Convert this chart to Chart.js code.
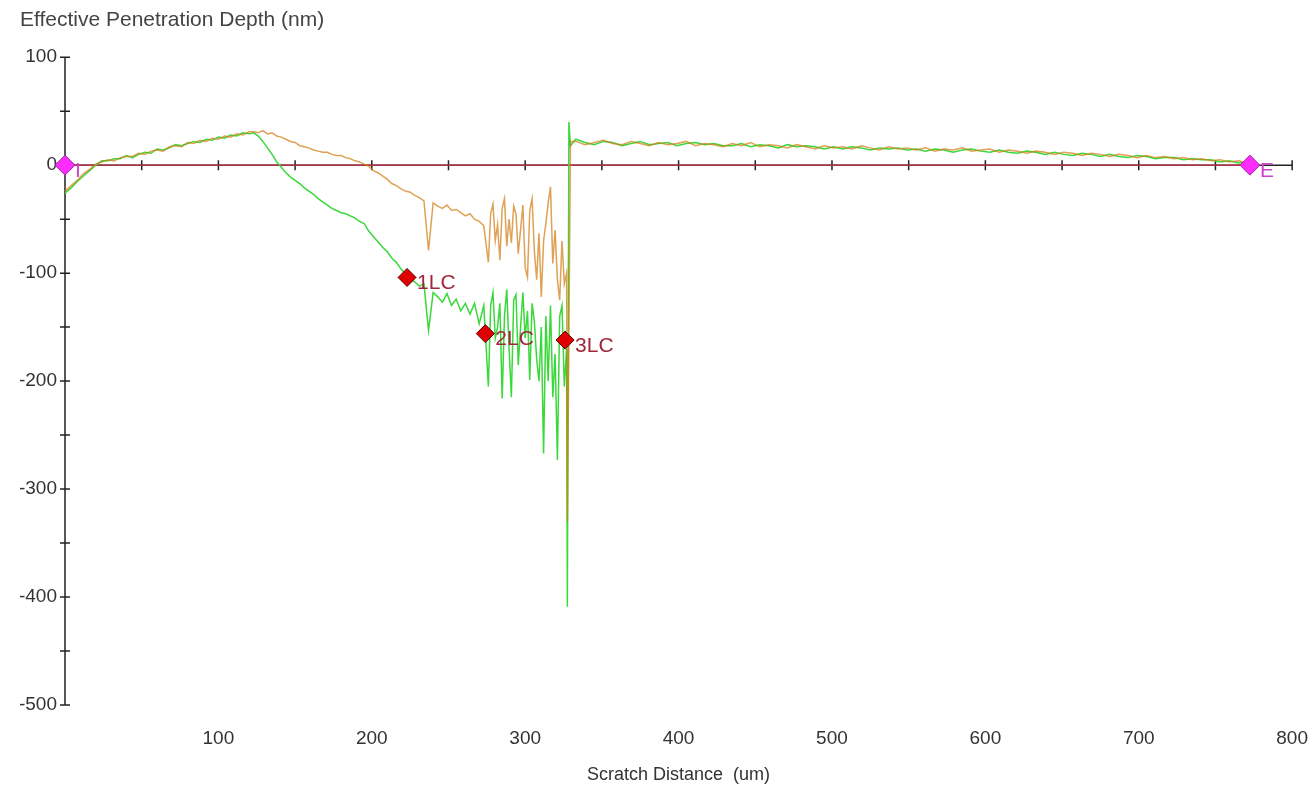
<!DOCTYPE html>
<html>
<head>
<meta charset="utf-8">
<title>Effective Penetration Depth</title>
<script src="https://cdn.jsdelivr.net/npm/chart.js@4.4.1/dist/chart.umd.min.js"></script>
<style>
  html, body { margin: 0; padding: 0; background: #fff; }
  #wrap { width: 1312px; height: 787px; }
</style>
</head>
<body>
<div id="wrap"><canvas id="depthChart" width="1312" height="787"></canvas></div>
<script>
// scratch distance (um), shared by both depth traces
const distance = [
  0, 4, 8, 12, 16, 20, 24, 28, 32, 36, 40, 44, 48, 52, 56, 60, 64, 68, 72, 76,
  80, 84, 88, 92, 96, 100, 104, 108, 112, 116, 120,
  123, 126, 129, 132, 135, 138, 141, 144, 147, 150,
  153, 156, 159, 162, 165, 168, 171, 174, 177, 180,
  183, 186, 189, 192, 195, 198, 201, 204, 207, 210,
  213, 216, 219, 222, 225, 228, 231, 234, 237, 240,
  243, 246, 249, 252, 255, 258, 261, 264, 267, 270,
  273,
  276, 277.5, 279, 280.5, 282, 283.5, 285, 286.5, 288, 289.5,
  291, 292.5, 294, 295.5, 297, 298.5, 300, 301.5, 303, 304.5,
  306, 307.5, 309, 310.5, 312, 313.5, 315, 316.5, 318, 319.5,
  321, 322.5, 324, 325.5, 327,
  327.5, 328.5, 329.5,
  333, 339, 345, 351, 357, 363, 369, 375, 381, 387,
  393, 399, 405, 411, 417, 423, 429, 435, 441, 447,
  453, 459, 465, 471, 477, 483, 489, 495, 501, 507,
  513, 519, 525, 531, 537, 543, 549, 555, 561, 567,
  573, 579, 585, 591, 597, 603, 609, 615, 621, 627,
  633, 639, 645, 651, 657, 663, 669, 675, 681, 687,
  693, 699, 705, 711, 717, 723, 729, 735, 741, 747,
  753, 759, 765, 771, 773
];

// orange trace, depth (nm)
const orangeDepth = [
  -24, -19, -14, -8, -4, 1, 3, 5, 4, 7, 8, 8, 11, 10, 13, 14, 13, 17, 18, 17,
  21, 20, 23, 22, 25, 24, 27, 26, 29, 28, 31,
  31, 30, 32, 29, 30, 27, 26, 24, 22, 21,
  18, 17, 16, 14, 13, 12, 12, 10, 9, 9,
  7, 6, 4, 3, 1, -1, -5, -7, -10, -13,
  -17, -19, -22, -24, -25, -28, -30, -33, -79, -35,
  -38, -40, -37, -42, -41, -44, -47, -45, -50, -52,
  -56,
  -90, -45, -36, -70, -55, -88, -40, -31, -75, -50,
  -72, -38, -45, -82, -60, -37, -95, -104, -42, -31,
  -80, -106, -63, -122, -70, -54, -35, -20, -91, -60,
  -106, -125, -70, -110, -100,
  -330, -160, 22,
  22, 19, 21, 23, 20, 19, 22, 20, 18, 21,
  19, 20, 22, 18, 20, 19, 17, 20, 18, 21,
  17, 19, 18, 16, 19, 17, 15, 18, 16, 17,
  15, 18, 16, 14, 17, 15, 16, 14, 16, 13,
  15, 14, 16, 13, 14, 15, 12, 14, 13, 11,
  13, 12, 10, 12, 11, 9, 11, 10, 8, 10,
  9, 7, 9, 7, 8, 6, 7, 5, 6, 4,
  5, 3, 4, 2, 1
];

// green trace, depth (nm)
const greenDepth = [
  -26, -21, -15, -10, -5, 0, 4, 4, 6, 6, 9, 7, 10, 12, 11, 15, 14, 16, 19, 18,
  20, 22, 21, 24, 23, 26, 25, 28, 27, 30, 29,
  30, 27, 22, 16, 10, 3, -2, -7, -11, -14,
  -17, -21, -24, -27, -31, -34, -37, -40, -42, -44,
  -45, -47, -49, -52, -54, -61, -66, -71, -76, -80,
  -86, -90, -96, -101, -106, -108, -112, -110, -153, -118,
  -122, -127, -119, -130, -124, -135, -128, -138, -128, -147,
  -130,
  -205, -130, -118, -160, -150, -128, -216, -140, -115, -170,
  -215, -125, -120, -185, -150, -118, -160, -135, -199, -128,
  -145, -180, -200, -150, -267, -140, -200, -130, -215, -175,
  -273, -140, -130, -205, -170,
  -409, 40, 18,
  24, 21, 19, 22, 21, 18, 20, 22, 19, 20,
  21, 18, 20, 21, 19, 20, 18, 18, 20, 17,
  19, 18, 16, 19, 17, 18, 17, 15, 17, 15,
  17, 16, 14, 16, 15, 16, 14, 15, 13, 15,
  14, 12, 14, 15, 13, 12, 14, 12, 11, 13,
  12, 10, 12, 10, 9, 11, 10, 8, 10, 8,
  7, 9, 8, 6, 7, 7, 5, 6, 5, 5,
  3, 4, 2, 3, 1
];

// zero reference line
const baseDist = [0, 773];
const baseDepth = [0, 0];

// start / end of scratch
const endDist = [0, 772.5];
const endDepth = [0, 0];
const endText = ['I', 'E'];

// critical load events
const lcDist = [223, 274, 326];
const lcDepth = [-104, -156, -162];
const lcText = ['1LC', '2LC', '3LC'];

// axis tick marks
const depthMarks = [100, 50, 0, -50, -100, -150, -200, -250, -300, -350, -400, -450, -500];
const distMarks = [50, 100, 150, 200, 250, 300, 350, 400, 450, 500, 550, 600, 650, 700, 750, 800];

const FONT = "'Liberation Sans', Arial, sans-serif";

const toPoints = (xs, ys) => xs.map((v, i) => ({ x: v, y: ys[i] }));

// axes crossing at the origin, with ticks on both sides of the line
const axisCross = {
  id: 'axisCross',
  beforeDatasetsDraw(chart) {
    const { ctx, scales: { x, y } } = chart;
    const x0 = x.getPixelForValue(0);
    const y0 = y.getPixelForValue(0);
    ctx.save();
    ctx.strokeStyle = '#222';
    ctx.lineWidth = 1.5;
    ctx.beginPath();
    ctx.moveTo(x0, y.getPixelForValue(100));
    ctx.lineTo(x0, y.getPixelForValue(-500));
    ctx.moveTo(x0, y0);
    ctx.lineTo(x.getPixelForValue(800), y0);
    depthMarks.forEach(v => {
      const py = y.getPixelForValue(v);
      ctx.moveTo(x0 - 5, py);
      ctx.lineTo(x0 + 5, py);
    });
    distMarks.forEach(v => {
      const px = x.getPixelForValue(v);
      ctx.moveTo(px, y0 - 5);
      ctx.lineTo(px, y0 + 5);
    });
    ctx.stroke();
    ctx.restore();
  }
};

// text next to the diamond markers
const markerLabels = {
  id: 'markerLabels',
  afterDatasetsDraw(chart) {
    const ctx = chart.ctx;
    chart.data.datasets.forEach((ds, i) => {
      if (!ds.pointText) return;
      const meta = chart.getDatasetMeta(i);
      ctx.save();
      ctx.font = '21px ' + FONT;
      ctx.fillStyle = ds.textColor;
      ctx.textBaseline = 'middle';
      meta.data.forEach((pt, j) => {
        ctx.fillText(ds.pointText[j], pt.x + 10, pt.y + 6);
      });
      ctx.restore();
    });
  }
};

new Chart(document.getElementById('depthChart').getContext('2d'), {
  type: 'scatter',
  data: {
    datasets: [
      {
        data: toPoints(lcDist, lcDepth),
        pointStyle: 'rectRot',
        pointRadius: 9,
        backgroundColor: '#e00000',
        borderColor: '#5a0000',
        borderWidth: 1,
        clip: false,
        pointText: lcText,
        textColor: '#a0283a'
      },
      {
        data: toPoints(endDist, endDepth),
        pointStyle: 'rectRot',
        pointRadius: 10,
        backgroundColor: '#ff2cff',
        borderColor: '#9a2a9a',
        borderWidth: 1,
        clip: false,
        pointText: endText,
        textColor: '#cc44cc'
      },
      {
        data: toPoints(distance, orangeDepth),
        showLine: true,
        borderColor: 'rgba(210, 125, 20, 0.72)',
        borderWidth: 1.5,
        pointRadius: 0,
        clip: false
      },
      {
        data: toPoints(distance, greenDepth),
        showLine: true,
        borderColor: '#3ad83a',
        borderWidth: 1.5,
        pointRadius: 0,
        clip: false
      },
      {
        data: toPoints(baseDist, baseDepth),
        showLine: true,
        borderColor: '#b03048',
        borderWidth: 1.5,
        pointRadius: 0
      }
    ]
  },
  options: {
    responsive: false,
    animation: false,
    devicePixelRatio: 1,
    events: [],
    layout: { padding: { left: 20, right: 7, top: 8, bottom: 0 } },
    plugins: {
      legend: { display: false },
      tooltip: { enabled: false },
      title: {
        display: true,
        text: 'Effective Penetration Depth (nm)',
        align: 'start',
        color: '#444',
        font: { family: FONT, size: 21, weight: 'normal' },
        padding: { top: 0, bottom: 24 }
      }
    },
    scales: {
      x: {
        type: 'linear',
        min: 0,
        max: 800,
        grid: { display: false, drawTicks: true, tickLength: 18 },
        border: { display: false },
        ticks: {
          stepSize: 100,
          padding: 4,
          color: '#333',
          font: { family: FONT, size: 19 },
          callback: v => (v === 0 ? '' : String(v))
        },
        title: {
          display: true,
          text: 'Scratch Distance  (um)',
          color: '#333',
          font: { family: FONT, size: 18 },
          padding: { top: 0, bottom: 1 }
        },
        afterFit: s => { s.height = 82; }
      },
      y: {
        min: -500,
        max: 100,
        grid: { display: false, drawTicks: false },
        border: { display: false },
        ticks: {
          stepSize: 100,
          padding: 8,
          color: '#333',
          font: { family: FONT, size: 19 },
          callback: v => String(v)
        },
        afterFit: s => { s.width = 45; }
      }
    }
  },
  plugins: [axisCross, markerLabels]
});
</script>
</body>
</html>
